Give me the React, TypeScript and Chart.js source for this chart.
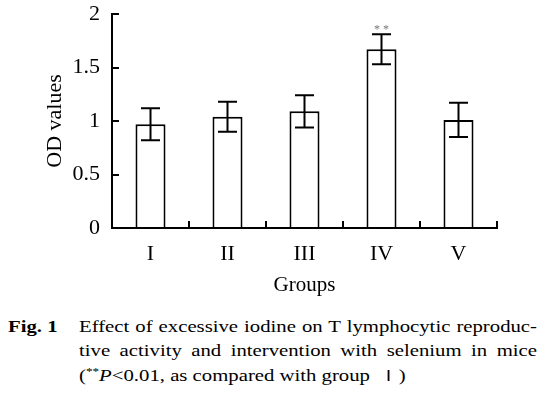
import React, { useEffect, useRef } from "react";
import { Chart, registerables } from "chart.js";

Chart.register(...registerables);

const groups = ["I", "II", "III", "IV", "V"];
const odValues = [0.97, 1.04, 1.09, 1.67, 1.01];
const odErrors = [0.15, 0.14, 0.15, 0.14, 0.16];
const significance = ["", "", "", "**", ""];
const yTicks = [0, 0.5, 1, 1.5, 2];

const captionLabel = "Fig. 1";
const captionLines = [
  "Effect of excessive iodine on T lymphocytic reproduc-",
  "tive activity and intervention with selenium in mice",
];

const SERIF = '"Liberation Serif", "Times New Roman", serif';

const errorBarPlugin = {
  id: "errorBars",
  afterDatasetsDraw(chart: any) {
    const { ctx } = chart;
    const meta = chart.getDatasetMeta(0);
    const y = chart.scales.y;
    ctx.save();
    ctx.strokeStyle = "#000";
    ctx.lineWidth = 2;
    meta.data.forEach((bar: any, i: number) => {
      const x = bar.x;
      const top = y.getPixelForValue(odValues[i] + odErrors[i]);
      const bot = y.getPixelForValue(odValues[i] - odErrors[i]);
      const cap = 9.5;
      ctx.beginPath();
      ctx.moveTo(x, top);
      ctx.lineTo(x, bot);
      ctx.moveTo(x - cap, top);
      ctx.lineTo(x + cap, top);
      ctx.moveTo(x - cap, bot);
      ctx.lineTo(x + cap, bot);
      ctx.stroke();
      if (significance[i]) {
        ctx.fillStyle = "#777";
        ctx.font = `12px ${SERIF}`;
        ctx.textAlign = "center";
        ctx.textBaseline = "alphabetic";
        ctx.fillText(significance[i].split("").join(" "), x, top - 1);
      }
    });
    ctx.restore();
  },
};

export default function App() {
  const ref = useRef<HTMLCanvasElement>(null);

  useEffect(() => {
    const axisGrid = {
      drawOnChartArea: false,
      drawTicks: true,
      tickLength: -7,
      color: "#000",
      lineWidth: 2,
    };
    const chart = new Chart(ref.current as HTMLCanvasElement, {
      type: "bar",
      data: {
        labels: groups,
        datasets: [
          {
            data: odValues,
            backgroundColor: "#fff",
            borderColor: "#000",
            borderWidth: 2,
            barPercentage: 0.39,
            categoryPercentage: 1,
          },
        ],
      },
      options: {
        responsive: false,
        animation: false,
        devicePixelRatio: 1,
        layout: { padding: { left: 0, right: 49, top: 14, bottom: 0 } },
        plugins: {
          legend: { display: false },
          tooltip: { enabled: false },
        },
        scales: {
          x: {
            grid: { ...axisGrid, offset: true },
            border: { color: "#000", width: 2 },
            ticks: {
              color: "#000",
              font: { family: SERIF, size: 22 },
              padding: 20,
              maxRotation: 0,
            },
            title: {
              display: true,
              text: "Groups",
              color: "#000",
              font: { family: SERIF, size: 21 },
              padding: { top: 0, bottom: 2 },
            },
            afterFit: (s: any) => {
              s.height = 72;
              s.paddingLeft = 0;
              s.paddingRight = 0;
            },
          },
          y: {
            min: 0,
            max: 2,
            grid: axisGrid,
            border: { color: "#000", width: 2 },
            afterBuildTicks: (s: any) => {
              s.ticks = yTicks.map((v) => ({ value: v }));
            },
            ticks: {
              color: "#000",
              font: { family: SERIF, size: 22 },
              padding: 19,
              callback: (v: any) => String(v),
            },
            title: {
              display: true,
              text: "OD values",
              color: "#000",
              font: { family: SERIF, size: 22 },
              padding: { top: 42, bottom: 0 },
            },
            afterFit: (s: any) => {
              s.width = 112;
              s.paddingTop = 0;
              s.paddingBottom = 0;
            },
          },
        },
      } as any,
      plugins: [errorBarPlugin],
    });
    return () => chart.destroy();
  }, []);

  const STRETCH = 1.2;
  const lineStyle: React.CSSProperties = {
    position: "absolute",
    left: 79,
    width: 458 / STRETCH,
    fontFamily: SERIF,
    fontSize: 17.3,
    lineHeight: "24px",
    color: "#000",
    whiteSpace: "nowrap",
    transform: `scaleX(${STRETCH})`,
    transformOrigin: "left top",
  };

  return (
    <div
      style={{
        position: "absolute",
        left: 0,
        top: 0,
        width: 546,
        height: 394,
        background: "#fff",
        overflow: "hidden",
      }}
    >
      <canvas ref={ref} width={546} height={300} style={{ display: "block" }} />
      <div
        style={{
          ...lineStyle,
          left: 8,
          width: 50,
          top: 315,
          fontWeight: "bold",
        }}
      >
        {captionLabel}
      </div>
      {captionLines.map((t, i) => (
        <div
          key={i}
          style={{
            ...lineStyle,
            top: 315 + i * 24,
            textAlign: "justify",
            textAlignLast: "justify",
          }}
        >
          {t}
        </div>
      ))}
      <div style={{ ...lineStyle, top: 363 }}>
        (<sup style={{ fontSize: 11, verticalAlign: "6px", lineHeight: 0 }}>**</sup>
        <i>P</i>&lt;0.01, as compared with group
        <span
          style={{
            fontFamily: '"Noto Sans CJK SC", sans-serif',
            fontSize: 15,
            marginLeft: 8,
            marginRight: 1,
          }}
        >
          {"\u2160"}
        </span>
        )
      </div>
    </div>
  );
}
